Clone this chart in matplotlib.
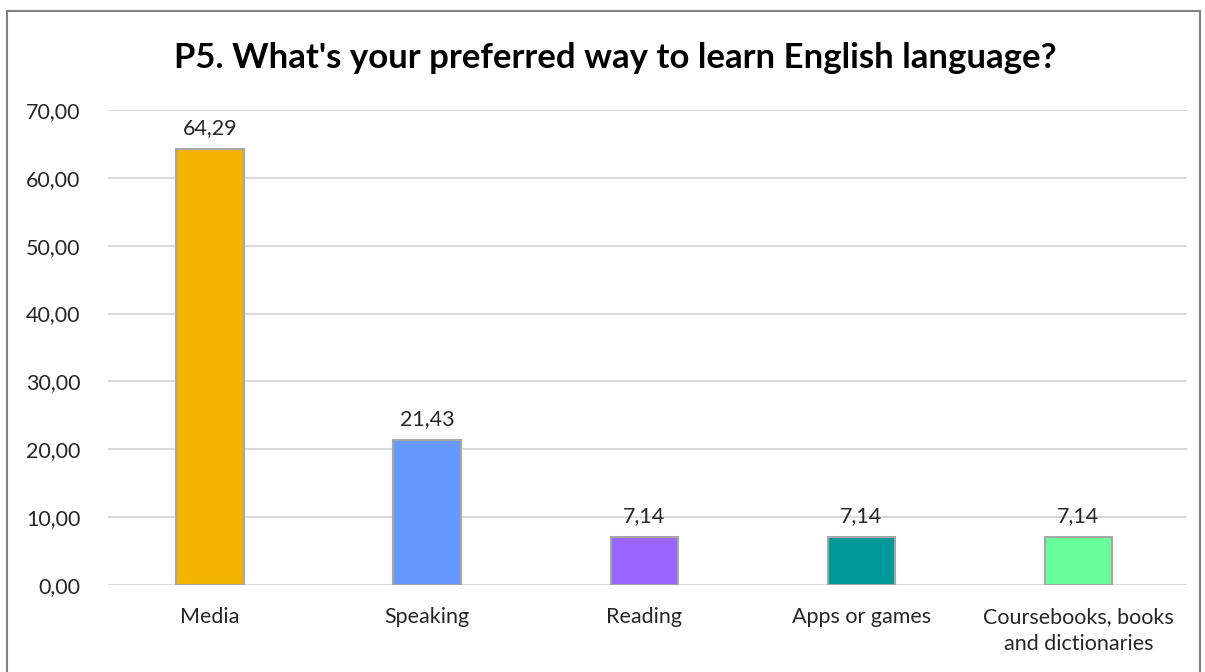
import matplotlib.pyplot as plt
from matplotlib.patches import Rectangle

# Survey answers (percent of respondents)
categories = ["Media", "Speaking", "Reading", "Apps or games",
              "Coursebooks, books\nand dictionaries"]
values = [64.29, 21.43, 7.14, 7.14, 7.14]
bar_colors = ["#F4B400", "#6699FF", "#9966FF", "#009999", "#66FF99"]
y_ticks = [0, 10, 20, 30, 40, 50, 60, 70]

FONT = "Lato"
FS = 15.5


def comma(v):
    return f"{v:.2f}".replace(".", ",")


fig = plt.figure(figsize=(12.05, 6.72), dpi=100)
ax = fig.add_axes([0.0896, 0.1295, 0.8954, 0.7068])

x = range(len(categories))
bars = ax.bar(x, values, width=0.31, color=bar_colors,
              edgecolor="#A6A6A6", linewidth=1.5, zorder=3)

for bar, v in zip(bars, values):
    ax.text(bar.get_x() + bar.get_width() / 2, v + 1.5, comma(v),
            ha="center", va="bottom", fontsize=FS, color="#262626",
            family=FONT, zorder=4)

ax.set_xlim(-0.47, 4.5)
ax.set_ylim(0, 70)
ax.set_yticks(y_ticks)
ax.set_yticklabels([comma(t) for t in y_ticks], family=FONT,
                   fontsize=FS, color="#262626")
ax.set_xticks(list(x))
ax.set_xticklabels(categories, family=FONT, fontsize=FS,
                   color="#262626", linespacing=1.45)
ax.tick_params(axis="both", length=0)
ax.tick_params(axis="y", pad=20)
ax.tick_params(axis="x", pad=16)

ax.grid(axis="y", color="#D9D9D9", linewidth=1.5, zorder=0)
for side in ("top", "right", "left", "bottom"):
    ax.spines[side].set_visible(False)

fig.text(0.511, 0.913, "P5. What's your preferred way to learn English language?",
         ha="center", va="center", fontsize=25, fontweight="bold",
         family=FONT, color="black")

# chart frame
fig.patches.append(Rectangle((7 / 1205, -0.01), 1193 / 1205, 1 - 11 / 672 + 0.01,
                             transform=fig.transFigure, fill=False,
                             edgecolor="#7F7F7F", linewidth=1.5))

fig.savefig("out.png", dpi=100)
